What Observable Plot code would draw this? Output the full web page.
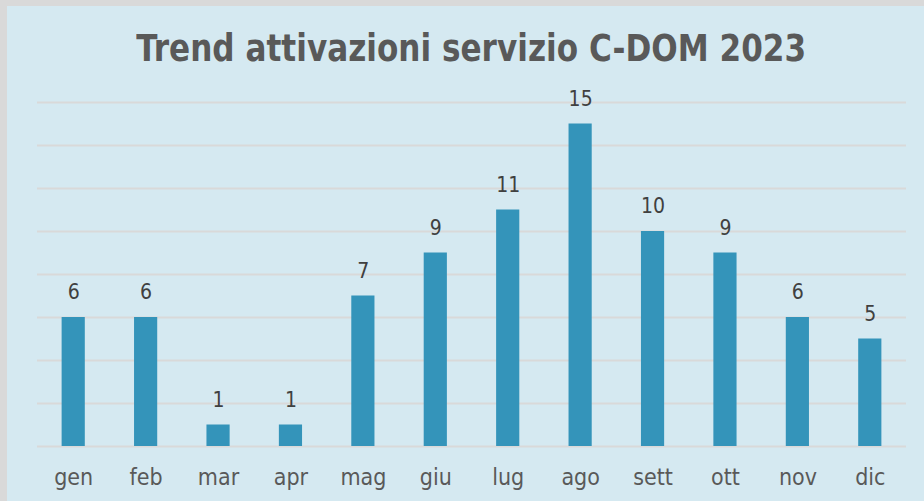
<!DOCTYPE html>
<html>
<head>
<meta charset="utf-8">
<script src="https://cdn.jsdelivr.net/npm/d3@7"></script>
<script src="https://cdn.jsdelivr.net/npm/@observablehq/plot@0.6"></script>
<style>
  html, body { margin: 0; padding: 0; background: #ffffff; }
  #panel {
    position: absolute; left: 0; top: 0;
    width: 917px; height: 495px;
    border-left: 7px solid #d9d9d9; border-top: 6px solid #d9d9d9;
    background: #d5e9f1; overflow: hidden;
  }
  #title {
    height: 90px; line-height: 86px; text-align: center;
    font-family: "DejaVu Sans Condensed", "DejaVu Sans", sans-serif;
    font-weight: bold; font-size: 37px; color: #595959;
    padding-left: 12px; white-space: nowrap;
  }
  #title span { display: inline-block; transform: scaleX(0.935); }
  #chart svg { overflow: visible; }
</style>
</head>
<body>
<div id="panel">
  <div id="title"><span>Trend attivazioni servizio C-DOM 2023</span></div>
  <div id="chart"></div>
</div>
<script>
const months = ["gen", "feb", "mar", "apr", "mag", "giu", "lug", "ago", "sett", "ott", "nov", "dic"];
const activations = [6, 6, 1, 1, 7, 9, 11, 15, 10, 9, 6, 5];
const yTicks = [0, 2, 4, 6, 8, 10, 12, 14, 16];

const data = months.map((m, i) => ({month: m, value: activations[i]}));

const chart = Plot.plot({
  width: 917,
  height: 405,
  marginTop: 6,
  marginBottom: 55,
  marginLeft: 30,
  marginRight: 18,
  style: {background: "transparent", overflow: "visible", fontFamily: "'DejaVu Sans Condensed', 'DejaVu Sans', sans-serif", fontSize: "23px", color: "#595959"},
  x: {domain: months, paddingInner: 0.68, paddingOuter: 0.34, align: 0.5, round: false, label: null, tickSize: 0, tickPadding: 22},
  y: {domain: [0, 16], axis: null},
  marks: [
    Plot.ruleY(yTicks, {stroke: "#d9d9d9", strokeWidth: 2, strokeOpacity: 1}),
    Plot.barY(data, {x: "month", y: "value", fill: "#3494ba"}),
    Plot.text(data, {x: "month", y: "value", text: d => String(d.value), dy: -25, fill: "#404040", fontSize: 21})
  ]
});
document.getElementById("chart").appendChild(chart);
</script>
</body>
</html>
